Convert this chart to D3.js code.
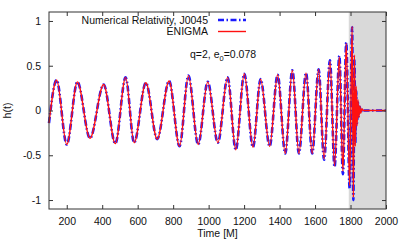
<!DOCTYPE html>
<html>
<head>
<meta charset="utf-8">
<script src="https://cdn.jsdelivr.net/npm/d3@7"></script>
<style>
  body { margin: 0; background: #fff; }
  text { font-family: "Liberation Sans", Arial, sans-serif; fill: #111; }
</style>
</head>
<body>
<div id="graph"></div>
<script>
// times of the waveform extrema, in M
var extremaTimes = [100, 143, 200, 260, 331, 408, 474, 532, 580, 646, 710, 777, 836, 886, 941, 995,
    1052, 1107, 1153, 1201, 1250, 1293, 1344, 1389, 1432, 1472, 1509, 1549, 1584, 1620, 1651, 1684,
    1710, 1737, 1757, 1776, 1795, 1809, 1816, 1822, 1827, 1832, 1837, 1842, 1847, 1852, 1858, 1864,
    1872, 2000];

// h(t) at those times, numerical relativity J0045
var nrStrain = [-0.14, 0.34, -0.38, 0.32, -0.31, 0.29, -0.37, 0.37, -0.36, 0.31, -0.32, 0.33, -0.40, 0.39, -0.38, 0.32,
    -0.36, 0.37, -0.44, 0.41, -0.41, 0.35, -0.40, 0.40, -0.48, 0.45, -0.48, 0.42, -0.48, 0.46, -0.55, 0.56,
    -0.63, 0.61, -0.71, 0.76, -0.87, 0.93, -1.0, 0.56, -0.36, 0.22, -0.14, 0.09, -0.06, 0.04, -0.02, 0.01,
    0, 0];

// h(t) at those times, ENIGMA model
var enigmaStrain = [-0.14, 0.34, -0.38, 0.32, -0.31, 0.29, -0.37, 0.37, -0.36, 0.31, -0.32, 0.33, -0.40, 0.39, -0.38, 0.32,
    -0.36, 0.37, -0.44, 0.41, -0.41, 0.35, -0.40, 0.40, -0.48, 0.45, -0.48, 0.42, -0.48, 0.46, -0.54, 0.55,
    -0.62, 0.60, -0.68, 0.75, -0.84, 0.94, -0.97, 0.62, -0.40, 0.27, -0.17, 0.12, -0.08, 0.05, -0.03, 0.02,
    0, 0];

var xTicks = [200, 400, 600, 800, 1000, 1200, 1400, 1600, 1800, 2000];
var yTicks = [-1, -0.5, 0, 0.5, 1];
var shadedRange = [1790, 2000];

var margin = {top: 12, right: 17, bottom: 33, left: 49};
var width = 403 - margin.left - margin.right;
var height = 242 - margin.top - margin.bottom;

var svg = d3.select("#graph").append("svg")
    .attr("width", 403)
    .attr("height", 242);

var g = svg.append("g")
    .attr("transform", "translate(" + margin.left + "," + margin.top + ")");

var x = d3.scaleLinear().domain([100, 2000]).range([0, width]);
var y = d3.scaleLinear().domain([-1.1, 1.1]).range([height, 0]);

// grey band after merger
g.append("rect")
    .attr("x", x(shadedRange[0]))
    .attr("y", 0)
    .attr("width", x(shadedRange[1]) - x(shadedRange[0]))
    .attr("height", height)
    .style("fill", "#d9d9d9");

var line = d3.line()
    .x(function(d) { return x(d[0]); })
    .y(function(d) { return y(d[1]); })
    .curve(d3.curveMonotoneX);

g.append("path")
    .datum(d3.zip(extremaTimes, nrStrain))
    .attr("d", line)
    .style("fill", "none")
    .style("stroke", "#1a1aff")
    .style("stroke-width", 2.6)
    .style("stroke-dasharray", "6,2.5,1.5,2.5");

g.append("path")
    .datum(d3.zip(extremaTimes, enigmaStrain))
    .attr("d", line)
    .style("fill", "none")
    .style("stroke", "#ff1010")
    .style("stroke-width", 1.4);

// axes, gnuplot style: inward ticks mirrored on all sides
var axisColor = "#333";
function styleAxis(sel) {
    sel.select(".domain").remove();
    sel.selectAll(".tick line").style("stroke", axisColor);
    sel.selectAll(".tick text").style("font-size", "10.5px").style("fill", "#111");
}

g.append("g")
    .attr("transform", "translate(0," + height + ")")
    .call(d3.axisBottom(x).tickValues(xTicks).tickSizeInner(-4).tickSizeOuter(0).tickPadding(9)
        .tickFormat(d3.format("d")))
    .call(styleAxis);

g.append("g")
    .call(d3.axisTop(x).tickValues(xTicks).tickSizeInner(-4).tickSizeOuter(0).tickFormat(""))
    .call(styleAxis);

g.append("g")
    .call(d3.axisLeft(y).tickValues(yTicks).tickSizeInner(-4).tickSizeOuter(0).tickPadding(8)
        .tickFormat(function(d) { return String(d); }))
    .call(styleAxis);

g.append("g")
    .attr("transform", "translate(" + width + ",0)")
    .call(d3.axisRight(y).tickValues(yTicks).tickSizeInner(-4).tickSizeOuter(0).tickFormat(""))
    .call(styleAxis);

g.append("rect")
    .attr("width", width)
    .attr("height", height)
    .style("fill", "none")
    .style("stroke", axisColor)
    .style("stroke-width", 1);

// axis labels
svg.append("text")
    .attr("x", margin.left + width / 2)
    .attr("y", 237)
    .attr("text-anchor", "middle")
    .style("font-size", "10.5px")
    .text("Time [M]");

svg.append("text")
    .attr("transform", "translate(11," + (margin.top + height / 2) + ") rotate(-90)")
    .attr("text-anchor", "middle")
    .style("font-size", "10.5px")
    .text("h(t)");

// legend
var legend = svg.append("g");
legend.append("text")
    .attr("x", 208).attr("y", 24)
    .attr("text-anchor", "end")
    .style("font-size", "10.5px")
    .text("Numerical Relativity, J0045");
legend.append("line")
    .attr("x1", 218).attr("x2", 246).attr("y1", 20).attr("y2", 20)
    .style("stroke", "#1a1aff")
    .style("stroke-width", 2.6)
    .style("stroke-dasharray", "6,2.5,1.5,2.5");
legend.append("text")
    .attr("x", 208).attr("y", 35)
    .attr("text-anchor", "end")
    .style("font-size", "10.5px")
    .text("ENIGMA");
legend.append("line")
    .attr("x1", 218).attr("x2", 246).attr("y1", 31.5).attr("y2", 31.5)
    .style("stroke", "#ff1010")
    .style("stroke-width", 1.4);

var note = svg.append("text")
    .attr("x", 190).attr("y", 58)
    .style("font-size", "10.5px");
note.append("tspan").text("q=2, e");
note.append("tspan").attr("dy", 3).style("font-size", "7.5px").text("0");
note.append("tspan").attr("dy", -3).text("=0.078");
</script>
</body>
</html>
